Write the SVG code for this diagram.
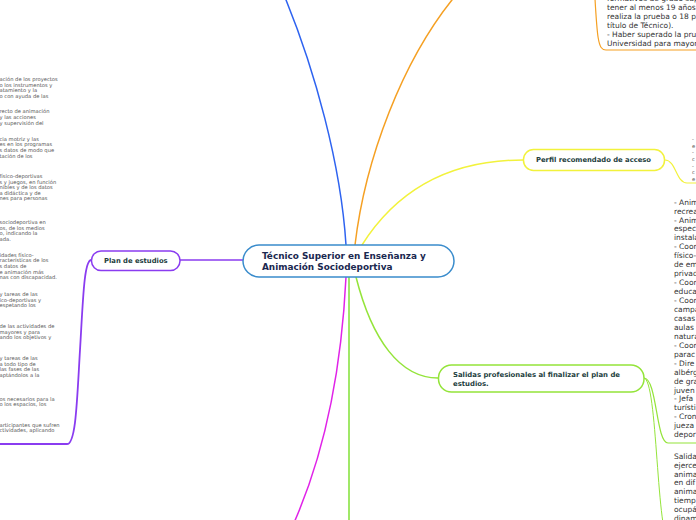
<svg xmlns="http://www.w3.org/2000/svg" width="696" height="520" viewBox="0 0 696 520">
<style>
.c{fill:none;stroke-linecap:round}
.sm{font-family:"DejaVu Sans",Verdana,sans-serif;font-size:5.2px;fill:#555}
.md{font-family:"DejaVu Sans",Verdana,sans-serif;font-size:7.5px;fill:#333}
.nb{font-family:"DejaVu Sans",Verdana,sans-serif;font-weight:bold;font-size:6.8px;fill:#1d4040}
.root{font-family:"DejaVu Sans",Verdana,sans-serif;font-weight:bold;font-size:8.9px;fill:#1a2850}
</style>
<rect width="696" height="520" fill="#fff"/>
<g id="connectors">
<path class="c" d="M346,245 C341,165 315,70 284,-5" stroke="#2e63f0" stroke-width="1.5"/>
<path class="c" d="M355,245 C365,160 402,60 456,-5" stroke="#f5a023" stroke-width="1.5"/>
<path class="c" d="M362,245 C400,185 455,160 523,160" stroke="#f2f23c" stroke-width="1.5"/>
<path class="c" d="M243,260 L180,260" stroke="#8a3cf0" stroke-width="1.5"/>
<path class="c" d="M346,277 C341,380 322,460 293,525" stroke="#e023e8" stroke-width="1.5"/>
<path class="c" d="M349,277 L349,525" stroke="#80e036" stroke-width="1.5"/>
<path class="c" d="M356,277 C372,340 400,378 438,378" stroke="#94e43a" stroke-width="1.5"/>
<path class="c" d="M91,260 C84,261 83,300 80,350 C77,400 76,444 67,444 L-2,444" stroke="#8a3cf0" stroke-width="1.8"/>
<path class="c" d="M594,-20 C597,40 598,50 606,50 L698,50" stroke="#f5a023" stroke-width="1.2"/>
<path class="c" d="M665,160 C676,160 676,183 687,183 L698,183" stroke="#f2f23c" stroke-width="1.2"/>
<path class="c" d="M644,378 C657,378 656,443 668,443 L698,443" stroke="#94e43a" stroke-width="1.2"/>
<path class="c" d="M644,378 C658,378 656,540 670,545" stroke="#94e43a" stroke-width="1"/>
</g>
<g id="root">
<rect x="243" y="245" width="211" height="32" rx="16" fill="#fff" stroke="#3a8ccc" stroke-width="1.5"/>
<text class="root" x="262" y="259.2">Técnico Superior en Enseñanza y</text>
<text class="root" x="262" y="269.8">Animación Sociodeportiva</text>
</g>
<g id="plan">
<rect x="91.5" y="251" width="88.5" height="19.5" rx="9.5" fill="#fff" stroke="#8a3cf0" stroke-width="1.5"/>
<text class="nb" x="104" y="263">Plan de estudios</text>
</g>
<g id="perfil">
<rect x="523.5" y="149.5" width="141" height="21" rx="10" fill="#fff" stroke="#f2f23c" stroke-width="1.5"/>
<text class="nb" x="536" y="162.3">Perfil recomendado de acceso</text>
</g>
<g id="salidas">
<rect x="438.5" y="365" width="205.5" height="27" rx="13" fill="#fff" stroke="#94e43a" stroke-width="1.5"/>
<text class="nb" x="453" y="376.5" style="font-size:6.9px">Salidas profesionales al finalizar el plan de</text>
<text class="nb" x="453" y="385.5" style="font-size:6.9px">estudios.</text>
</g>
<g id="plan-detalle">
<text class="sm">
<tspan x="-0.5" y="81">ación de los proyectos</tspan>
<tspan x="-0.5" y="86.6">o los instrumentos y</tspan>
<tspan x="-0.5" y="92.2">atamiento y la</tspan>
<tspan x="-0.5" y="97.8">o con ayuda de las</tspan>
<tspan x="-0.5" y="113.4">recto de animación</tspan>
<tspan x="-0.5" y="119">y las acciones</tspan>
<tspan x="-0.5" y="124.6">y supervisión del</tspan>
<tspan x="-0.5" y="140.7">cia motriz y las</tspan>
<tspan x="-0.5" y="146.3">es en los programas</tspan>
<tspan x="-0.5" y="151.9">s datos de modo que</tspan>
<tspan x="-0.5" y="157.5">tación de los</tspan>
<tspan x="-0.5" y="178">físico-deportivas</tspan>
<tspan x="-0.5" y="183.6">s y juegos, en función</tspan>
<tspan x="-0.5" y="189.2">nibles y de los datos</tspan>
<tspan x="-0.5" y="194.8">a didáctica y de</tspan>
<tspan x="-0.5" y="200.4">nes para personas</tspan>
<tspan x="-0.5" y="224.2">sociodeportiva en</tspan>
<tspan x="-0.5" y="229.8">os, de los medios</tspan>
<tspan x="-0.5" y="235.4">o, indicando la</tspan>
<tspan x="-0.5" y="241">ada.</tspan>
<tspan x="-0.5" y="256.7">idades físico-</tspan>
<tspan x="-0.5" y="262.3">racterísticas de los</tspan>
<tspan x="-0.5" y="267.9">s datos de</tspan>
<tspan x="-0.5" y="273.5">e animación más</tspan>
<tspan x="-0.5" y="279.1">nas con discapacidad.</tspan>
<tspan x="-0.5" y="296">y tareas de las</tspan>
<tspan x="-0.5" y="301.6">ico-deportivas y</tspan>
<tspan x="-0.5" y="307.2">espetando los</tspan>
<tspan x="-0.5" y="328.2">de las actividades de</tspan>
<tspan x="-0.5" y="333.8">mayores y para</tspan>
<tspan x="-0.5" y="339.4">ando los objetivos y</tspan>
<tspan x="-0.5" y="360">y tareas de las</tspan>
<tspan x="-0.5" y="365.6">a todo tipo de</tspan>
<tspan x="-0.5" y="371.2">las fases de las</tspan>
<tspan x="-0.5" y="376.8">aptándolos a la</tspan>
<tspan x="-0.5" y="400.5">os necesarios para la</tspan>
<tspan x="-0.5" y="406.1">o los espacios, los</tspan>
<tspan x="-0.5" y="426.7">articipantes que sufren</tspan>
<tspan x="-0.5" y="432.3">ctividades, aplicando</tspan>
</text>
</g>
<g id="requisitos">
<text class="md">
<tspan x="607" y="1">formativos de grado sup</tspan>
<tspan x="607" y="10">tener al menos 19 años</tspan>
<tspan x="607" y="19">realiza la prueba o 18 p</tspan>
<tspan x="607" y="28">título de Técnico).</tspan>
<tspan x="607" y="37">- Haber superado la pru</tspan>
<tspan x="607" y="46">Universidad para mayor</tspan>
</text>
</g>
<g id="perfil-detalle">
<text class="sm">
<tspan x="692" y="141.2">-</tspan>
<tspan x="692" y="147.8">e</tspan>
<tspan x="692" y="154.4">-</tspan>
<tspan x="692" y="161">c</tspan>
<tspan x="692" y="167.6">-</tspan>
<tspan x="692" y="174.2">c</tspan>
<tspan x="692" y="180.8">e</tspan>
</text>
</g>
<g id="salidas-puestos">
<text class="md">
<tspan x="674" y="204.6">- Anim</tspan>
<tspan x="674" dy="8.95">recrea</tspan>
<tspan x="674" dy="8.95">- Anim</tspan>
<tspan x="674" dy="8.95">espec</tspan>
<tspan x="674" dy="8.95">instala</tspan>
<tspan x="674" dy="8.95">- Coor</tspan>
<tspan x="674" dy="8.95">físico-</tspan>
<tspan x="674" dy="8.95">de em</tspan>
<tspan x="674" dy="8.95">privad</tspan>
<tspan x="674" dy="8.95">- Coor</tspan>
<tspan x="674" dy="8.95">educa</tspan>
<tspan x="674" dy="8.95">- Coor</tspan>
<tspan x="674" dy="8.95">campa</tspan>
<tspan x="674" dy="8.95">casas</tspan>
<tspan x="674" dy="8.95">aulas</tspan>
<tspan x="674" dy="8.95">natura</tspan>
<tspan x="674" dy="8.95">- Coor</tspan>
<tspan x="674" dy="8.95">parac</tspan>
<tspan x="674" dy="8.95">- Dire</tspan>
<tspan x="674" dy="8.95">albérg</tspan>
<tspan x="674" dy="8.95">de gra</tspan>
<tspan x="674" dy="8.95">juven</tspan>
<tspan x="674" dy="8.95">- Jefa</tspan>
<tspan x="674" dy="8.95">turísti</tspan>
<tspan x="674" dy="8.95">- Cron</tspan>
<tspan x="674" dy="8.95">jueza</tspan>
<tspan x="674" dy="8.95">depor</tspan>
</text>
</g>
<g id="salidas-ambito">
<text class="md">
<tspan x="674" y="458.6">Salida</tspan>
<tspan x="674" dy="8.95">ejerce</tspan>
<tspan x="674" dy="8.95">anima</tspan>
<tspan x="674" dy="8.95">en dif</tspan>
<tspan x="674" dy="8.95">anima</tspan>
<tspan x="674" dy="8.95">tiemp</tspan>
<tspan x="674" dy="8.95">ocupá</tspan>
<tspan x="674" dy="8.95">dinam</tspan>
</text>
</g>
</svg>
